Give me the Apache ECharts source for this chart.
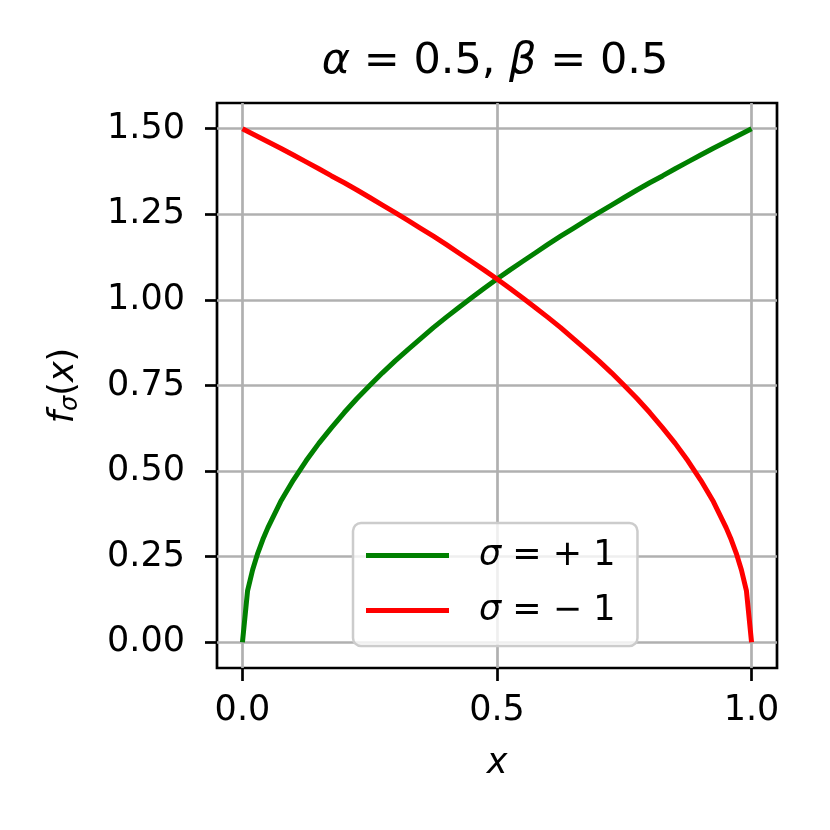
<!DOCTYPE html>
<html>
<head>
<meta charset="utf-8">
<script src="https://cdn.jsdelivr.net/npm/echarts@6/dist/echarts.min.js"></script>
<style>
  html, body { margin: 0; padding: 0; background: #fff; }
  #chart { width: 830px; height: 830px; }
</style>
</head>
<body>
<div id="chart"></div>
<script>
// values
const xGreen = [0, 0.01, 0.02, 0.03, 0.04, 0.05, 0.075, 0.1, 0.125, 0.15, 0.175, 0.2, 0.225, 0.25, 0.275, 0.3, 0.325, 0.35, 0.375, 0.4, 0.425, 0.45, 0.475, 0.5, 0.525, 0.55, 0.575, 0.6, 0.625, 0.65, 0.675, 0.7, 0.725, 0.75, 0.775, 0.8, 0.825, 0.85, 0.875, 0.9, 0.925, 0.95, 0.975, 1.0]
const greenValues = [0, 0.150, 0.212, 0.260, 0.300, 0.335, 0.411, 0.474, 0.530, 0.581, 0.627, 0.671, 0.712, 0.750, 0.787, 0.822, 0.855, 0.887, 0.919, 0.949, 0.978, 1.006, 1.034, 1.061, 1.087, 1.112, 1.137, 1.162, 1.186, 1.209, 1.232, 1.255, 1.277, 1.299, 1.321, 1.342, 1.362, 1.383, 1.403, 1.423, 1.443, 1.462, 1.481, 1.500]
const xRed = [0, 0.025, 0.05, 0.075, 0.1, 0.125, 0.15, 0.175, 0.2, 0.225, 0.25, 0.275, 0.3, 0.325, 0.35, 0.375, 0.4, 0.425, 0.45, 0.475, 0.5, 0.525, 0.55, 0.575, 0.6, 0.625, 0.65, 0.675, 0.7, 0.725, 0.75, 0.775, 0.8, 0.825, 0.85, 0.875, 0.9, 0.925, 0.95, 0.96, 0.97, 0.98, 0.99, 1.0]
const redValues = [1.500, 1.481, 1.462, 1.443, 1.423, 1.403, 1.383, 1.362, 1.342, 1.321, 1.299, 1.277, 1.255, 1.232, 1.209, 1.186, 1.162, 1.137, 1.112, 1.087, 1.061, 1.034, 1.006, 0.978, 0.949, 0.919, 0.887, 0.855, 0.822, 0.787, 0.750, 0.712, 0.671, 0.627, 0.581, 0.530, 0.474, 0.411, 0.335, 0.300, 0.260, 0.212, 0.150, 0]
const xTicks = [0, 0.5, 1.0]
const yTicks = [0, 0.25, 0.5, 0.75, 1.0, 1.25, 1.5]
const seriesNames = ['σ = +1', 'σ = −1']

const font = 'DejaVu Sans'
const gridColor = '#b0b0b0'
const fs = 35

let chart = echarts.init(document.getElementById('chart'), null, { renderer: 'canvas' })

function pairs (xs, ys) {
  return xs.map((x, i) => [x, ys[i]])
}

let option = {
  animation: false,
  backgroundColor: '#fff',
  textStyle: { fontFamily: font, color: '#000' },
  graphic: [
    {
      type: 'text',
      x: 495,
      y: 62,
      style: {
        text: '{i|α} = 0.5, {i|β} = 0.5',
        fontFamily: font,
        fontSize: 43,
        fill: '#000',
        align: 'center',
        verticalAlign: 'middle',
        rich: {
          i: { fontFamily: font, fontSize: 43, fontStyle: 'italic' }
        }
      }
    }
  ],
  grid: {
    left: 217,
    top: 103,
    width: 560,
    height: 565,
    show: true,
    borderColor: '#000',
    borderWidth: 2.7,
    backgroundColor: 'transparent'
  },
  legend: {
    orient: 'vertical',
    left: 353,
    top: 523,
    padding: [15, 22, 18, 13],
    itemGap: 20,
    itemWidth: 83,
    itemHeight: 5,
    icon: 'rect',
    backgroundColor: 'rgba(255,255,255,0.8)',
    borderColor: '#cccccc',
    borderWidth: 2.5,
    borderRadius: 8,
    data: seriesNames,
    formatter: name => '{sp| }{i|σ} = ' + name.slice(4).replace('+', '+ ').replace('−', '− '),
    textStyle: {
      fontFamily: font,
      fontSize: fs,
      color: '#000',
      rich: {
        sp: { width: 25 },
        i: { fontFamily: font, fontSize: fs, fontStyle: 'italic' }
      }
    }
  },
  xAxis: {
    type: 'value',
    min: -0.05,
    max: 1.05,
    name: 'x',
    nameLocation: 'middle',
    nameGap: 78,
    nameTextStyle: { fontFamily: font, fontSize: fs, fontStyle: 'italic', color: '#000' },
    axisLine: { show: false, onZero: false },
    axisTick: {
      show: true,
      inside: false,
      length: 13,
      customValues: xTicks,
      lineStyle: { color: '#000', width: 2.7 }
    },
    axisLabel: {
      customValues: xTicks,
      margin: 25,
      fontFamily: font,
      fontSize: fs,
      color: '#000',
      formatter: v => v.toFixed(1)
    },
    splitLine: { show: true, lineStyle: { color: gridColor, width: 2.7 } }
  },
  yAxis: {
    type: 'value',
    min: -0.075,
    max: 1.575,
    name: '{i|f}{s|σ}{n|(}{i|x}{n|)}',
    nameLocation: 'middle',
    nameRotate: 90,
    nameGap: 134,
    nameTextStyle: {
      fontFamily: font,
      fontSize: fs,
      color: '#000',
      rich: {
        i: { fontFamily: font, fontSize: fs, fontStyle: 'italic' },
        n: { fontFamily: font, fontSize: fs },
        s: { fontFamily: font, fontSize: 24, fontStyle: 'italic', padding: [15, 0, 0, 0] }
      }
    },
    axisLine: { show: false, onZero: false },
    axisTick: {
      show: true,
      inside: false,
      length: 12,
      customValues: yTicks,
      lineStyle: { color: '#000', width: 2.7 }
    },
    axisLabel: {
      customValues: yTicks,
      margin: 32,
      fontFamily: font,
      fontSize: fs,
      color: '#000',
      formatter: v => v.toFixed(2)
    },
    splitLine: { show: true, lineStyle: { color: gridColor, width: 2.7 } }
  },
  series: [
    {
      name: seriesNames[0],
      type: 'line',
      data: pairs(xGreen, greenValues),
      showSymbol: false,
      color: '#008000',
      lineStyle: { color: '#008000', width: 5 },
      z: 3
    },
    {
      name: seriesNames[1],
      type: 'line',
      data: pairs(xRed, redValues),
      showSymbol: false,
      color: '#ff0000',
      lineStyle: { color: '#ff0000', width: 5 },
      z: 4
    }
  ]
}
chart.setOption(option)
</script>
</body>
</html>
